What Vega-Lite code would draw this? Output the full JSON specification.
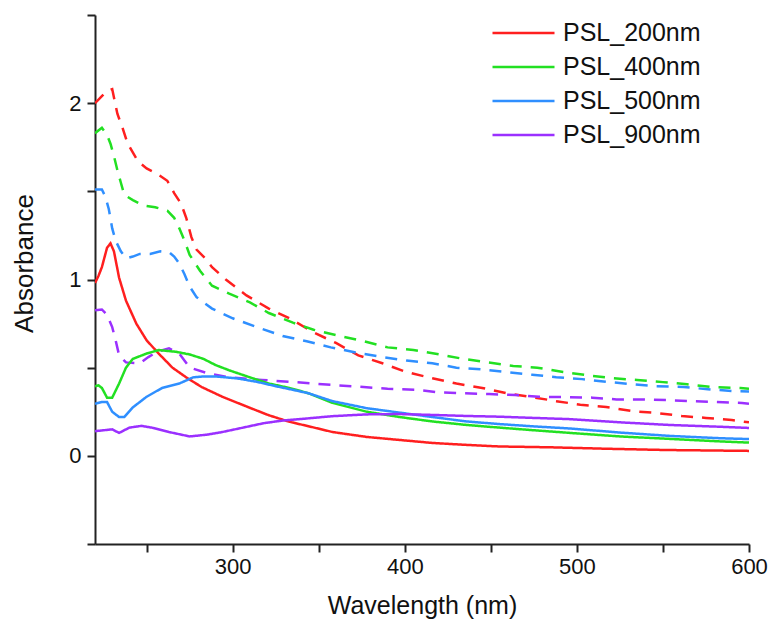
{
  "$schema": "https://vega.github.io/schema/vega-lite/v6.json",
  "width": 654,
  "height": 529,
  "autosize": {"type": "none"},
  "padding": {"left": 95, "top": 15, "right": 20, "bottom": 82},
  "background": "white",
  "config": {"view": {"stroke": null}, "font": "Liberation Sans"},
  "data": {"values": [
    {"s":"PSL_200nm","t":"dashed","x":220,"y":2.0},{"s":"PSL_200nm","t":"dashed","x":224,"y":2.04},{"s":"PSL_200nm","t":"dashed","x":227,"y":2.07},{"s":"PSL_200nm","t":"dashed","x":230,"y":2.08},{"s":"PSL_200nm","t":"dashed","x":233,"y":1.94},{"s":"PSL_200nm","t":"dashed","x":236,"y":1.86},{"s":"PSL_200nm","t":"dashed","x":239,"y":1.77},{"s":"PSL_200nm","t":"dashed","x":245,"y":1.67},{"s":"PSL_200nm","t":"dashed","x":250,"y":1.63},{"s":"PSL_200nm","t":"dashed","x":256,"y":1.60},{"s":"PSL_200nm","t":"dashed","x":262,"y":1.56},{"s":"PSL_200nm","t":"dashed","x":266,"y":1.49},{"s":"PSL_200nm","t":"dashed","x":270,"y":1.43},{"s":"PSL_200nm","t":"dashed","x":273,"y":1.35},{"s":"PSL_200nm","t":"dashed","x":276,"y":1.24},{"s":"PSL_200nm","t":"dashed","x":279,"y":1.17},{"s":"PSL_200nm","t":"dashed","x":284,"y":1.12},{"s":"PSL_200nm","t":"dashed","x":288,"y":1.07},{"s":"PSL_200nm","t":"dashed","x":296,"y":1.0},{"s":"PSL_200nm","t":"dashed","x":308,"y":0.91},{"s":"PSL_200nm","t":"dashed","x":321,"y":0.835},{"s":"PSL_200nm","t":"dashed","x":333,"y":0.78},{"s":"PSL_200nm","t":"dashed","x":347,"y":0.70},{"s":"PSL_200nm","t":"dashed","x":360,"y":0.64},{"s":"PSL_200nm","t":"dashed","x":373,"y":0.57},{"s":"PSL_200nm","t":"dashed","x":387,"y":0.525},{"s":"PSL_200nm","t":"dashed","x":401,"y":0.475},{"s":"PSL_200nm","t":"dashed","x":416,"y":0.44},{"s":"PSL_200nm","t":"dashed","x":430,"y":0.41},{"s":"PSL_200nm","t":"dashed","x":445,"y":0.385},{"s":"PSL_200nm","t":"dashed","x":459,"y":0.355},{"s":"PSL_200nm","t":"dashed","x":474,"y":0.333},{"s":"PSL_200nm","t":"dashed","x":488,"y":0.31},{"s":"PSL_200nm","t":"dashed","x":502,"y":0.29},{"s":"PSL_200nm","t":"dashed","x":517,"y":0.277},{"s":"PSL_200nm","t":"dashed","x":532,"y":0.254},{"s":"PSL_200nm","t":"dashed","x":546,"y":0.243},{"s":"PSL_200nm","t":"dashed","x":561,"y":0.226},{"s":"PSL_200nm","t":"dashed","x":575,"y":0.215},{"s":"PSL_200nm","t":"dashed","x":590,"y":0.203},{"s":"PSL_200nm","t":"dashed","x":600,"y":0.19},

    {"s":"PSL_400nm","t":"dashed","x":220,"y":1.83},{"s":"PSL_400nm","t":"dashed","x":224,"y":1.86},{"s":"PSL_400nm","t":"dashed","x":227,"y":1.82},{"s":"PSL_400nm","t":"dashed","x":229,"y":1.77},{"s":"PSL_400nm","t":"dashed","x":231,"y":1.70},{"s":"PSL_400nm","t":"dashed","x":233,"y":1.62},{"s":"PSL_400nm","t":"dashed","x":235,"y":1.55},{"s":"PSL_400nm","t":"dashed","x":237,"y":1.48},{"s":"PSL_400nm","t":"dashed","x":242,"y":1.45},{"s":"PSL_400nm","t":"dashed","x":248,"y":1.42},{"s":"PSL_400nm","t":"dashed","x":255,"y":1.41},{"s":"PSL_400nm","t":"dashed","x":262,"y":1.39},{"s":"PSL_400nm","t":"dashed","x":266,"y":1.35},{"s":"PSL_400nm","t":"dashed","x":269,"y":1.29},{"s":"PSL_400nm","t":"dashed","x":272,"y":1.22},{"s":"PSL_400nm","t":"dashed","x":275,"y":1.14},{"s":"PSL_400nm","t":"dashed","x":281,"y":1.05},{"s":"PSL_400nm","t":"dashed","x":288,"y":0.965},{"s":"PSL_400nm","t":"dashed","x":298,"y":0.92},{"s":"PSL_400nm","t":"dashed","x":310,"y":0.87},{"s":"PSL_400nm","t":"dashed","x":321,"y":0.81},{"s":"PSL_400nm","t":"dashed","x":335,"y":0.755},{"s":"PSL_400nm","t":"dashed","x":347,"y":0.715},{"s":"PSL_400nm","t":"dashed","x":362,"y":0.68},{"s":"PSL_400nm","t":"dashed","x":376,"y":0.65},{"s":"PSL_400nm","t":"dashed","x":390,"y":0.615},{"s":"PSL_400nm","t":"dashed","x":405,"y":0.60},{"s":"PSL_400nm","t":"dashed","x":420,"y":0.575},{"s":"PSL_400nm","t":"dashed","x":434,"y":0.55},{"s":"PSL_400nm","t":"dashed","x":448,"y":0.53},{"s":"PSL_400nm","t":"dashed","x":463,"y":0.51},{"s":"PSL_400nm","t":"dashed","x":477,"y":0.50},{"s":"PSL_400nm","t":"dashed","x":492,"y":0.475},{"s":"PSL_400nm","t":"dashed","x":506,"y":0.457},{"s":"PSL_400nm","t":"dashed","x":521,"y":0.44},{"s":"PSL_400nm","t":"dashed","x":535,"y":0.43},{"s":"PSL_400nm","t":"dashed","x":550,"y":0.418},{"s":"PSL_400nm","t":"dashed","x":564,"y":0.406},{"s":"PSL_400nm","t":"dashed","x":579,"y":0.39},{"s":"PSL_400nm","t":"dashed","x":595,"y":0.384},{"s":"PSL_400nm","t":"dashed","x":600,"y":0.38},

    {"s":"PSL_500nm","t":"dashed","x":220,"y":1.51},{"s":"PSL_500nm","t":"dashed","x":224,"y":1.51},{"s":"PSL_500nm","t":"dashed","x":226,"y":1.47},{"s":"PSL_500nm","t":"dashed","x":228,"y":1.40},{"s":"PSL_500nm","t":"dashed","x":230,"y":1.29},{"s":"PSL_500nm","t":"dashed","x":232,"y":1.22},{"s":"PSL_500nm","t":"dashed","x":235,"y":1.16},{"s":"PSL_500nm","t":"dashed","x":238,"y":1.12},{"s":"PSL_500nm","t":"dashed","x":242,"y":1.13},{"s":"PSL_500nm","t":"dashed","x":246,"y":1.145},{"s":"PSL_500nm","t":"dashed","x":252,"y":1.145},{"s":"PSL_500nm","t":"dashed","x":258,"y":1.16},{"s":"PSL_500nm","t":"dashed","x":263,"y":1.155},{"s":"PSL_500nm","t":"dashed","x":266,"y":1.13},{"s":"PSL_500nm","t":"dashed","x":269,"y":1.09},{"s":"PSL_500nm","t":"dashed","x":272,"y":1.03},{"s":"PSL_500nm","t":"dashed","x":275,"y":0.96},{"s":"PSL_500nm","t":"dashed","x":279,"y":0.90},{"s":"PSL_500nm","t":"dashed","x":288,"y":0.835},{"s":"PSL_500nm","t":"dashed","x":300,"y":0.78},{"s":"PSL_500nm","t":"dashed","x":314,"y":0.73},{"s":"PSL_500nm","t":"dashed","x":329,"y":0.68},{"s":"PSL_500nm","t":"dashed","x":343,"y":0.65},{"s":"PSL_500nm","t":"dashed","x":357,"y":0.615},{"s":"PSL_500nm","t":"dashed","x":372,"y":0.585},{"s":"PSL_500nm","t":"dashed","x":387,"y":0.56},{"s":"PSL_500nm","t":"dashed","x":401,"y":0.54},{"s":"PSL_500nm","t":"dashed","x":416,"y":0.525},{"s":"PSL_500nm","t":"dashed","x":430,"y":0.50},{"s":"PSL_500nm","t":"dashed","x":445,"y":0.49},{"s":"PSL_500nm","t":"dashed","x":459,"y":0.475},{"s":"PSL_500nm","t":"dashed","x":474,"y":0.46},{"s":"PSL_500nm","t":"dashed","x":488,"y":0.446},{"s":"PSL_500nm","t":"dashed","x":503,"y":0.435},{"s":"PSL_500nm","t":"dashed","x":517,"y":0.42},{"s":"PSL_500nm","t":"dashed","x":532,"y":0.406},{"s":"PSL_500nm","t":"dashed","x":546,"y":0.395},{"s":"PSL_500nm","t":"dashed","x":562,"y":0.39},{"s":"PSL_500nm","t":"dashed","x":576,"y":0.378},{"s":"PSL_500nm","t":"dashed","x":591,"y":0.367},{"s":"PSL_500nm","t":"dashed","x":600,"y":0.365},

    {"s":"PSL_900nm","t":"dashed","x":220,"y":0.825},{"s":"PSL_900nm","t":"dashed","x":224,"y":0.83},{"s":"PSL_900nm","t":"dashed","x":227,"y":0.80},{"s":"PSL_900nm","t":"dashed","x":230,"y":0.73},{"s":"PSL_900nm","t":"dashed","x":232,"y":0.655},{"s":"PSL_900nm","t":"dashed","x":234,"y":0.57},{"s":"PSL_900nm","t":"dashed","x":238,"y":0.53},{"s":"PSL_900nm","t":"dashed","x":246,"y":0.525},{"s":"PSL_900nm","t":"dashed","x":251,"y":0.56},{"s":"PSL_900nm","t":"dashed","x":256,"y":0.59},{"s":"PSL_900nm","t":"dashed","x":263,"y":0.61},{"s":"PSL_900nm","t":"dashed","x":269,"y":0.58},{"s":"PSL_900nm","t":"dashed","x":275,"y":0.50},{"s":"PSL_900nm","t":"dashed","x":285,"y":0.47},{"s":"PSL_900nm","t":"dashed","x":298,"y":0.445},{"s":"PSL_900nm","t":"dashed","x":317,"y":0.43},{"s":"PSL_900nm","t":"dashed","x":333,"y":0.42},{"s":"PSL_900nm","t":"dashed","x":347,"y":0.41},{"s":"PSL_900nm","t":"dashed","x":361,"y":0.40},{"s":"PSL_900nm","t":"dashed","x":376,"y":0.39},{"s":"PSL_900nm","t":"dashed","x":390,"y":0.38},{"s":"PSL_900nm","t":"dashed","x":406,"y":0.375},{"s":"PSL_900nm","t":"dashed","x":420,"y":0.36},{"s":"PSL_900nm","t":"dashed","x":435,"y":0.355},{"s":"PSL_900nm","t":"dashed","x":449,"y":0.35},{"s":"PSL_900nm","t":"dashed","x":464,"y":0.345},{"s":"PSL_900nm","t":"dashed","x":478,"y":0.335},{"s":"PSL_900nm","t":"dashed","x":493,"y":0.333},{"s":"PSL_900nm","t":"dashed","x":509,"y":0.33},{"s":"PSL_900nm","t":"dashed","x":523,"y":0.32},{"s":"PSL_900nm","t":"dashed","x":538,"y":0.32},{"s":"PSL_900nm","t":"dashed","x":552,"y":0.316},{"s":"PSL_900nm","t":"dashed","x":567,"y":0.31},{"s":"PSL_900nm","t":"dashed","x":581,"y":0.305},{"s":"PSL_900nm","t":"dashed","x":596,"y":0.30},{"s":"PSL_900nm","t":"dashed","x":600,"y":0.295},

    {"s":"PSL_200nm","t":"solid","x":220,"y":0.98},{"s":"PSL_200nm","t":"solid","x":222,"y":1.02},{"s":"PSL_200nm","t":"solid","x":224,"y":1.07},{"s":"PSL_200nm","t":"solid","x":227,"y":1.18},{"s":"PSL_200nm","t":"solid","x":229,"y":1.205},{"s":"PSL_200nm","t":"solid","x":231,"y":1.16},{"s":"PSL_200nm","t":"solid","x":234,"y":1.01},{"s":"PSL_200nm","t":"solid","x":238,"y":0.88},{"s":"PSL_200nm","t":"solid","x":244,"y":0.75},{"s":"PSL_200nm","t":"solid","x":250,"y":0.655},{"s":"PSL_200nm","t":"solid","x":257,"y":0.58},{"s":"PSL_200nm","t":"solid","x":265,"y":0.50},{"s":"PSL_200nm","t":"solid","x":273,"y":0.445},{"s":"PSL_200nm","t":"solid","x":282,"y":0.39},{"s":"PSL_200nm","t":"solid","x":294,"y":0.335},{"s":"PSL_200nm","t":"solid","x":308,"y":0.28},{"s":"PSL_200nm","t":"solid","x":321,"y":0.23},{"s":"PSL_200nm","t":"solid","x":333,"y":0.193},{"s":"PSL_200nm","t":"solid","x":344,"y":0.168},{"s":"PSL_200nm","t":"solid","x":358,"y":0.135},{"s":"PSL_200nm","t":"solid","x":378,"y":0.107},{"s":"PSL_200nm","t":"solid","x":397,"y":0.09},{"s":"PSL_200nm","t":"solid","x":416,"y":0.073},{"s":"PSL_200nm","t":"solid","x":436,"y":0.062},{"s":"PSL_200nm","t":"solid","x":455,"y":0.053},{"s":"PSL_200nm","t":"solid","x":475,"y":0.05},{"s":"PSL_200nm","t":"solid","x":486,"y":0.048},{"s":"PSL_200nm","t":"solid","x":518,"y":0.04},{"s":"PSL_200nm","t":"solid","x":552,"y":0.033},{"s":"PSL_200nm","t":"solid","x":600,"y":0.028},

    {"s":"PSL_400nm","t":"solid","x":220,"y":0.395},{"s":"PSL_400nm","t":"solid","x":222,"y":0.40},{"s":"PSL_400nm","t":"solid","x":224,"y":0.385},{"s":"PSL_400nm","t":"solid","x":227,"y":0.33},{"s":"PSL_400nm","t":"solid","x":230,"y":0.33},{"s":"PSL_400nm","t":"solid","x":234,"y":0.41},{"s":"PSL_400nm","t":"solid","x":238,"y":0.50},{"s":"PSL_400nm","t":"solid","x":242,"y":0.55},{"s":"PSL_400nm","t":"solid","x":250,"y":0.58},{"s":"PSL_400nm","t":"solid","x":257,"y":0.60},{"s":"PSL_400nm","t":"solid","x":267,"y":0.59},{"s":"PSL_400nm","t":"solid","x":275,"y":0.575},{"s":"PSL_400nm","t":"solid","x":283,"y":0.55},{"s":"PSL_400nm","t":"solid","x":290,"y":0.515},{"s":"PSL_400nm","t":"solid","x":298,"y":0.485},{"s":"PSL_400nm","t":"solid","x":310,"y":0.445},{"s":"PSL_400nm","t":"solid","x":321,"y":0.41},{"s":"PSL_400nm","t":"solid","x":333,"y":0.385},{"s":"PSL_400nm","t":"solid","x":344,"y":0.355},{"s":"PSL_400nm","t":"solid","x":358,"y":0.30},{"s":"PSL_400nm","t":"solid","x":378,"y":0.25},{"s":"PSL_400nm","t":"solid","x":397,"y":0.22},{"s":"PSL_400nm","t":"solid","x":416,"y":0.195},{"s":"PSL_400nm","t":"solid","x":436,"y":0.175},{"s":"PSL_400nm","t":"solid","x":455,"y":0.16},{"s":"PSL_400nm","t":"solid","x":475,"y":0.145},{"s":"PSL_400nm","t":"solid","x":496,"y":0.13},{"s":"PSL_400nm","t":"solid","x":525,"y":0.11},{"s":"PSL_400nm","t":"solid","x":554,"y":0.096},{"s":"PSL_400nm","t":"solid","x":583,"y":0.082},{"s":"PSL_400nm","t":"solid","x":600,"y":0.075},

    {"s":"PSL_500nm","t":"solid","x":220,"y":0.295},{"s":"PSL_500nm","t":"solid","x":224,"y":0.305},{"s":"PSL_500nm","t":"solid","x":227,"y":0.305},{"s":"PSL_500nm","t":"solid","x":230,"y":0.25},{"s":"PSL_500nm","t":"solid","x":234,"y":0.22},{"s":"PSL_500nm","t":"solid","x":237,"y":0.22},{"s":"PSL_500nm","t":"solid","x":242,"y":0.275},{"s":"PSL_500nm","t":"solid","x":250,"y":0.335},{"s":"PSL_500nm","t":"solid","x":259,"y":0.385},{"s":"PSL_500nm","t":"solid","x":269,"y":0.41},{"s":"PSL_500nm","t":"solid","x":277,"y":0.445},{"s":"PSL_500nm","t":"solid","x":283,"y":0.45},{"s":"PSL_500nm","t":"solid","x":290,"y":0.45},{"s":"PSL_500nm","t":"solid","x":302,"y":0.44},{"s":"PSL_500nm","t":"solid","x":314,"y":0.42},{"s":"PSL_500nm","t":"solid","x":325,"y":0.395},{"s":"PSL_500nm","t":"solid","x":337,"y":0.37},{"s":"PSL_500nm","t":"solid","x":344,"y":0.355},{"s":"PSL_500nm","t":"solid","x":358,"y":0.31},{"s":"PSL_500nm","t":"solid","x":378,"y":0.27},{"s":"PSL_500nm","t":"solid","x":397,"y":0.245},{"s":"PSL_500nm","t":"solid","x":416,"y":0.22},{"s":"PSL_500nm","t":"solid","x":436,"y":0.195},{"s":"PSL_500nm","t":"solid","x":455,"y":0.18},{"s":"PSL_500nm","t":"solid","x":475,"y":0.167},{"s":"PSL_500nm","t":"solid","x":496,"y":0.155},{"s":"PSL_500nm","t":"solid","x":525,"y":0.132},{"s":"PSL_500nm","t":"solid","x":554,"y":0.113},{"s":"PSL_500nm","t":"solid","x":583,"y":0.10},{"s":"PSL_500nm","t":"solid","x":600,"y":0.095},

    {"s":"PSL_900nm","t":"solid","x":220,"y":0.14},{"s":"PSL_900nm","t":"solid","x":225,"y":0.145},{"s":"PSL_900nm","t":"solid","x":230,"y":0.15},{"s":"PSL_900nm","t":"solid","x":234,"y":0.13},{"s":"PSL_900nm","t":"solid","x":240,"y":0.16},{"s":"PSL_900nm","t":"solid","x":247,"y":0.17},{"s":"PSL_900nm","t":"solid","x":253,"y":0.16},{"s":"PSL_900nm","t":"solid","x":263,"y":0.135},{"s":"PSL_900nm","t":"solid","x":275,"y":0.11},{"s":"PSL_900nm","t":"solid","x":285,"y":0.12},{"s":"PSL_900nm","t":"solid","x":294,"y":0.135},{"s":"PSL_900nm","t":"solid","x":306,"y":0.16},{"s":"PSL_900nm","t":"solid","x":318,"y":0.185},{"s":"PSL_900nm","t":"solid","x":329,"y":0.20},{"s":"PSL_900nm","t":"solid","x":341,"y":0.21},{"s":"PSL_900nm","t":"solid","x":358,"y":0.225},{"s":"PSL_900nm","t":"solid","x":378,"y":0.235},{"s":"PSL_900nm","t":"solid","x":397,"y":0.237},{"s":"PSL_900nm","t":"solid","x":416,"y":0.232},{"s":"PSL_900nm","t":"solid","x":436,"y":0.226},{"s":"PSL_900nm","t":"solid","x":455,"y":0.222},{"s":"PSL_900nm","t":"solid","x":475,"y":0.215},{"s":"PSL_900nm","t":"solid","x":496,"y":0.208},{"s":"PSL_900nm","t":"solid","x":525,"y":0.19},{"s":"PSL_900nm","t":"solid","x":554,"y":0.175},{"s":"PSL_900nm","t":"solid","x":583,"y":0.165},{"s":"PSL_900nm","t":"solid","x":600,"y":0.158}
  ]},
  "mark": {"type": "line", "strokeWidth": 2.5, "clip": true},
  "encoding": {
    "x": {
      "field": "x", "type": "quantitative",
      "scale": {"domain": [220, 600], "nice": false, "zero": false},
      "axis": {
        "values": [250, 300, 350, 400, 450, 500, 550, 600],
        "labelExpr": "datum.value % 100 === 0 ? datum.label : ''",
        "grid": false, "labelFlush": false,
        "domainColor": "#222", "domainWidth": 2,
        "tickColor": "#222", "tickWidth": 2, "tickSize": 8,
        "labelFontSize": 22, "labelColor": "#111", "labelPadding": 4,
        "title": "Wavelength (nm)", "titleFontSize": 25, "titleFontWeight": "normal", "titleColor": "#111", "titlePadding": 16
      }
    },
    "y": {
      "field": "y", "type": "quantitative",
      "scale": {"domain": [-0.5, 2.5], "nice": false, "zero": false},
      "axis": {
        "values": [-0.5, 0, 0.5, 1, 1.5, 2, 2.5],
        "labelExpr": "datum.value % 1 === 0 ? format(datum.value, 'd') : ''",
        "grid": false, "labelFlush": false,
        "domainColor": "#222", "domainWidth": 2,
        "tickColor": "#222", "tickWidth": 2, "tickSize": 8,
        "labelFontSize": 22, "labelColor": "#111", "labelPadding": 6,
        "title": "Absorbance", "titleFontSize": 26, "titleFontWeight": "normal", "titleColor": "#111",
        "titleX": -58, "titleY": 248
      }
    },
    "color": {
      "field": "s", "type": "nominal",
      "scale": {"domain": ["PSL_200nm", "PSL_400nm", "PSL_500nm", "PSL_900nm"], "range": ["#ff1f1f", "#22e022", "#2f8fff", "#9b30ff"]},
      "legend": {
        "orient": "none", "legendX": 396, "legendY": 6,
        "title": null, "symbolType": "stroke", "symbolSize": 3844, "symbolStrokeWidth": 2.5,
        "labelFontSize": 25, "labelColor": "#111", "labelOffset": 7, "clipHeight": 24, "rowPadding": 9
      }
    },
    "strokeDash": {
      "field": "t", "type": "nominal",
      "scale": {"domain": ["solid", "dashed"], "range": [[1, 0], [12, 9]]},
      "legend": null
    }
  }
}
